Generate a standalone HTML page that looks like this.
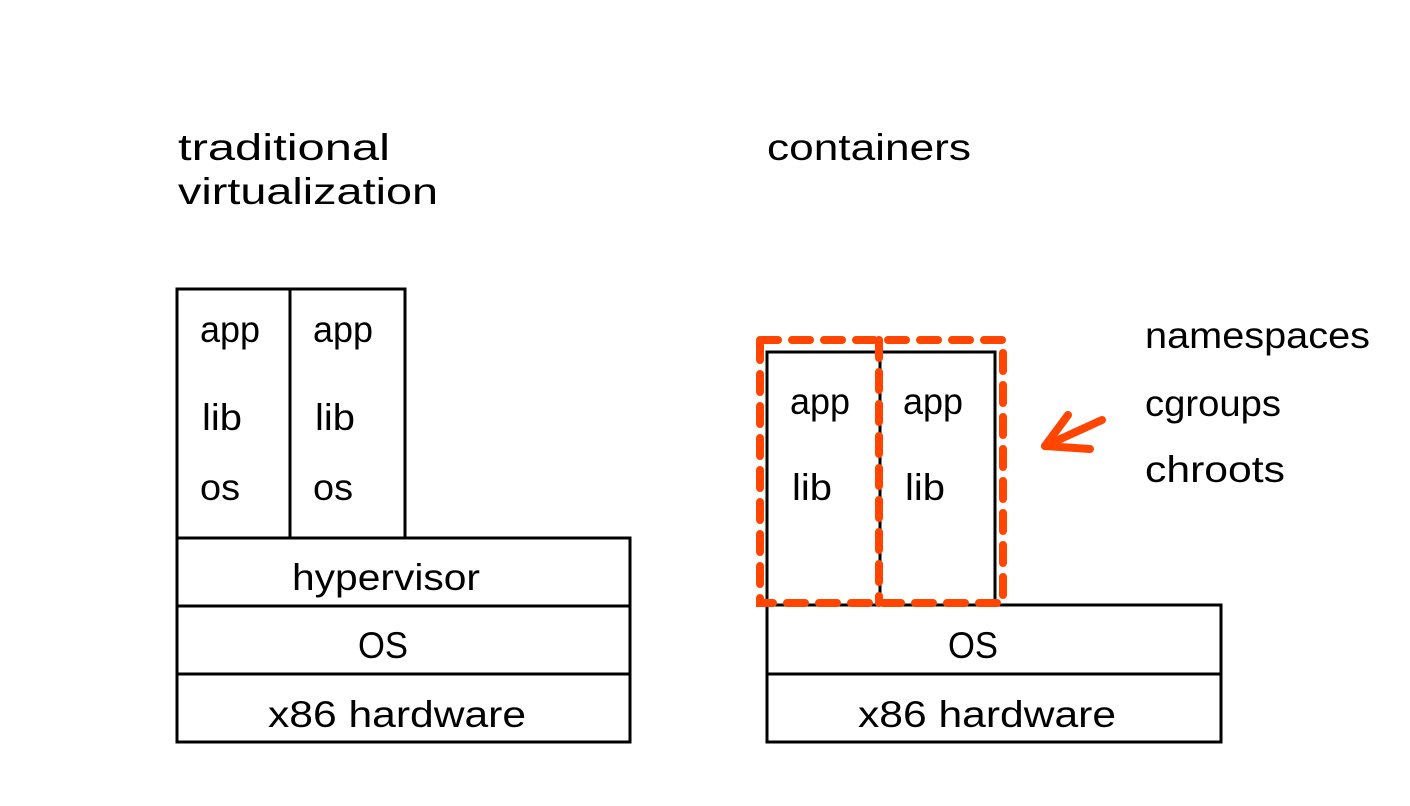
<!DOCTYPE html>
<html><head><style>body{margin:0;background:#fff}svg{display:block}text{font-family:"Liberation Sans",sans-serif;font-size:37px;fill:#000}</style></head>
<body>
<svg width="1410" height="806" viewBox="0 0 1410 806" xmlns="http://www.w3.org/2000/svg">
<g fill="none" stroke="#000" stroke-width="3">
<rect x="177" y="289" width="228" height="249"/>
<line x1="290" y1="289" x2="290" y2="538"/>
<rect x="177" y="538" width="453" height="204"/>
<line x1="177" y1="606" x2="630" y2="606"/>
<line x1="177" y1="674" x2="630" y2="674"/>
<rect x="767" y="352" width="228" height="253"/>
<line x1="880" y1="352" x2="880" y2="605"/>
<rect x="767" y="605" width="454" height="137"/>
<line x1="767" y1="674" x2="1221" y2="674"/>
</g>
<g fill="none" stroke="#ff4500" stroke-width="8" stroke-linecap="round" stroke-dasharray="18 14">
<rect x="760" y="340" width="243" height="263"/>
<line x1="879" y1="340" x2="879" y2="603"/>
</g>
<g fill="none" stroke="#ff4500" stroke-width="8" stroke-linecap="round" stroke-linejoin="round">
<line x1="1102" y1="420" x2="1045" y2="446"/>
<line x1="1068" y1="415" x2="1045" y2="446"/>
<line x1="1045" y1="446" x2="1090" y2="449"/>
</g>
<g lengthAdjust="spacingAndGlyphs">
<text x="178" y="160" textLength="212" lengthAdjust="spacingAndGlyphs">traditional</text>
<text x="178" y="204" textLength="260" lengthAdjust="spacingAndGlyphs">virtualization</text>
<text x="767" y="160" textLength="204" lengthAdjust="spacingAndGlyphs">containers</text>
<text x="200" y="342" textLength="60" lengthAdjust="spacingAndGlyphs">app</text>
<text x="313" y="342" textLength="60" lengthAdjust="spacingAndGlyphs">app</text>
<text x="202" y="430" textLength="40" lengthAdjust="spacingAndGlyphs">lib</text>
<text x="315" y="430" textLength="40" lengthAdjust="spacingAndGlyphs">lib</text>
<text x="200" y="500" textLength="40" lengthAdjust="spacingAndGlyphs">os</text>
<text x="313" y="500" textLength="40" lengthAdjust="spacingAndGlyphs">os</text>
<text x="292" y="590" textLength="188" lengthAdjust="spacingAndGlyphs">hypervisor</text>
<text x="358" y="658" textLength="50" lengthAdjust="spacingAndGlyphs">OS</text>
<text x="268" y="727" textLength="258" lengthAdjust="spacingAndGlyphs">x86 hardware</text>
<text x="790" y="414" textLength="60" lengthAdjust="spacingAndGlyphs">app</text>
<text x="903" y="414" textLength="60" lengthAdjust="spacingAndGlyphs">app</text>
<text x="792" y="500" textLength="40" lengthAdjust="spacingAndGlyphs">lib</text>
<text x="905" y="500" textLength="40" lengthAdjust="spacingAndGlyphs">lib</text>
<text x="948" y="658" textLength="50" lengthAdjust="spacingAndGlyphs">OS</text>
<text x="858" y="727" textLength="258" lengthAdjust="spacingAndGlyphs">x86 hardware</text>
<text x="1145" y="348" textLength="225" lengthAdjust="spacingAndGlyphs">namespaces</text>
<text x="1145" y="416" textLength="136" lengthAdjust="spacingAndGlyphs">cgroups</text>
<text x="1145" y="482" textLength="140" lengthAdjust="spacingAndGlyphs">chroots</text>
</g>
</svg>
</body></html>
